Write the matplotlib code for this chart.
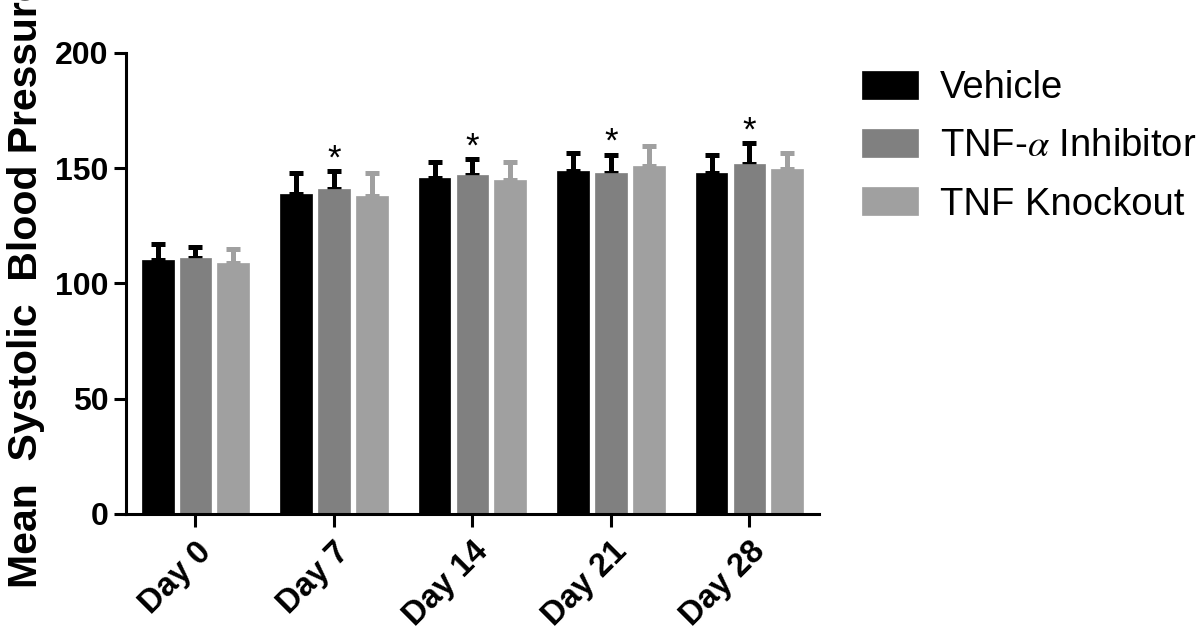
import numpy as np
from matplotlib import pyplot as plt

#-----------------------------------------------------------------------
#	Data
#-----------------------------------------------------------------------

days = ['Day 0', 'Day 7', 'Day 14', 'Day 21', 'Day 28']
groups = ['Vehicle', r'TNF-$\alpha$ Inhibitor', 'TNF Knockout']
vehicle = [110, 138.7, 145.9, 148.7, 147.9]
inhibitor = [111, 140.8, 146.9, 147.9, 151.9]
knockout = [109, 137.8, 144.7, 150.8, 149.8]
vehicleErr = [7, 9.2, 6.9, 8.1, 8.0]
inhibitorErr = [5, 7.9, 6.9, 8.0, 8.9]
knockoutErr = [6, 10.1, 8.1, 9.0, 7.0]
starred = [False, True, True, True, True]

colors = ['#000000', '#808080', '#a0a0a0']
errColors = ['#000000', '#000000', '#a0a0a0']

plt.rcParams['font.family'] = ['Liberation Sans', 'DejaVu Sans']
plt.rcParams['mathtext.fontset'] = 'stix'

fig = plt.figure(figsize=(12, 6.33), dpi=100)
ax = fig.add_axes([0.1052, 0.188, 0.577, 0.7283])

x = np.arange(len(days))
width = 0.229
offset = 0.273
series = [vehicle, inhibitor, knockout]
errs = [vehicleErr, inhibitorErr, knockoutErr]

for i, (vals, err) in enumerate(zip(series, errs)):
	pos = x + (i - 1) * offset
	ax.errorbar(pos, vals, yerr=[np.zeros(len(vals)), err], fmt='none',
		ecolor=errColors[i], elinewidth=3.6, capsize=5, capthick=3.6, zorder=1)
	ax.bar(pos, vals, width, color=colors[i], edgecolor=colors[i],
		linewidth=0.5, label=groups[i], zorder=2)

# significance marks above the inhibitor bars
for k in range(len(days)):
	if starred[k]:
		top = inhibitor[k] + inhibitorErr[k]
		ax.text(x[k], top + 1.2, '*', ha='center', va='baseline', fontsize=25)

ax.set_xlim(-0.5, 4.5)
ax.set_ylim(0, 200)
ax.set_yticks([0, 50, 100, 150, 200])
ax.set_xticks(x)
ax.set_xticklabels(days, rotation=45, ha='right', va='top',
	rotation_mode='anchor', fontsize=23.5, fontweight='bold')
for lab in ax.get_yticklabels():
	lab.set_fontsize(23)
	lab.set_fontweight('bold')

ax.spines['top'].set_visible(False)
ax.spines['right'].set_visible(False)
ax.spines['left'].set_linewidth(2.2)
ax.spines['bottom'].set_linewidth(2.2)
ax.tick_params(width=2.2, length=9, pad=4)
ax.tick_params(axis='x', pad=7)

ax.set_ylabel('Mean  Systolic  Blood Pressure', fontsize=29.5,
	fontweight='bold', labelpad=7)

fig.legend(loc='upper left', bbox_to_anchor=(0.718, 0.889), frameon=False,
	fontsize=27.5, handlelength=1.47, handleheight=0.76, handletextpad=0.58,
	labelspacing=0.58, borderpad=0, borderaxespad=0)

fig.savefig('out.png', dpi=100)
